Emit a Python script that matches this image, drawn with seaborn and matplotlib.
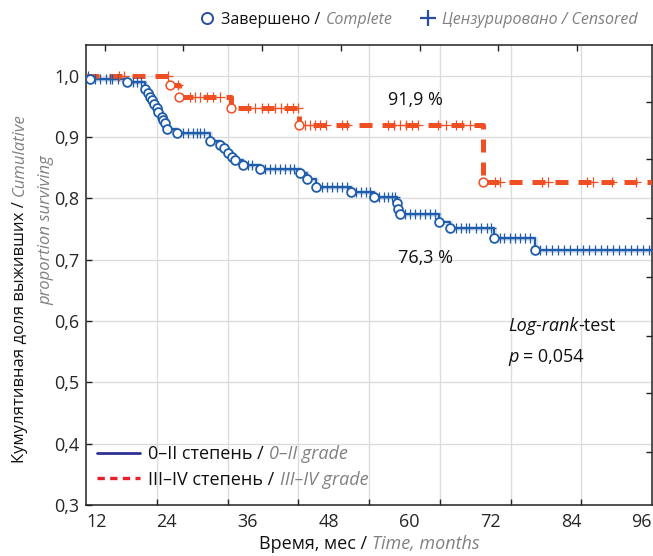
import numpy as np
import pandas as pd
import matplotlib
matplotlib.use('Agg')
import matplotlib.pyplot as plt
import seaborn as sns
from matplotlib.lines import Line2D
from matplotlib.ticker import FuncFormatter

# 0-II grade: event times (months) and survival after each event
low_event_t = [12.6, 18.1, 20.8, 21.2, 21.5, 21.8, 22.1, 22.5, 22.7, 23.3, 23.4, 23.7, 24.0,
               25.5, 30.4, 31.9, 32.5, 33.1, 33.7, 34.1, 35.3, 37.8, 43.8, 44.8, 46.1,
               51.3, 54.7, 58.2, 58.3, 58.6, 64.4, 66.0, 72.6, 78.6]
low_event_s = [0.995, 0.989, 0.979, 0.972, 0.966, 0.961, 0.954, 0.948, 0.941, 0.933, 0.928, 0.923, 0.913,
               0.907, 0.894, 0.887, 0.882, 0.874, 0.867, 0.862, 0.854, 0.848, 0.841, 0.831, 0.818,
               0.810, 0.802, 0.792, 0.782, 0.774, 0.761, 0.751, 0.735, 0.715]
low_cens_t = [12.3, 13.3, 14.1, 15.0, 15.5, 15.9, 16.7, 19.0, 19.6, 20.2, 26.4, 27.1, 27.9, 28.5,
              28.9, 29.5, 36.0, 36.6, 38.6, 39.3, 40.0, 40.8, 41.5, 42.3, 42.9, 47.0, 47.8, 48.5,
              49.2, 50.0, 50.7, 52.1, 52.8, 53.5, 54.1, 55.5, 56.2, 56.8, 57.4, 57.8, 59.3, 60.1,
              60.8, 61.6, 62.3, 63.0, 63.8, 66.9, 67.6, 68.4, 68.9, 69.9, 70.6, 71.5, 72.1, 73.4,
              74.1, 74.9, 75.6, 76.4, 77.1, 77.9, 79.4, 80.3, 81.2, 82.1, 83.0, 83.9, 84.8, 85.7,
              86.6, 87.5, 88.4, 89.3, 90.2, 91.1, 92.0, 92.9, 93.8, 94.7, 95.6]

# III-IV grade
high_event_t = [24.5, 25.8, 33.5, 43.6, 70.9]
high_event_s = [0.984, 0.966, 0.948, 0.919, 0.827]
high_cens_t = [16.9, 17.6, 24.2, 25.6, 27.4, 28.2, 28.9, 30.0, 30.8, 31.9, 36.0, 37.1, 38.1,
               39.0, 40.0, 40.9, 41.8, 42.7, 43.4, 44.5, 45.2, 46.0, 46.7, 47.6, 50.0, 50.7,
               56.8, 57.7, 58.6, 59.5, 60.4, 61.3, 64.2, 65.4, 66.9, 67.8, 69.0, 72.7, 73.4,
               79.7, 80.5, 86.3, 87.2, 90.0, 93.6]

x_ticks = [12, 24, 36, 48, 60, 72, 84, 96]
y_ticks = [0.3, 0.4, 0.5, 0.6, 0.7, 0.8, 0.9, 1.0]
t_start, t_end = 12, 96

BLUE = '#1f5cab'
RED = '#f04f23'
NAVY = '#2e3192'
LRED = '#e8202a'
GREY = '#808080'
GRID = '#dcdcdc'
FS = 13

sns.set_style('white')
plt.rcParams['font.family'] = ['Open Sans', 'DejaVu Sans']
plt.rcParams['font.size'] = FS


def curve(ev_t, ev_s):
    t = [t_start] + list(ev_t) + [t_end]
    s = [1.0] + list(ev_s) + [ev_s[-1]]
    return pd.DataFrame({'t': t, 's': s})


def censored(ev_t, ev_s, c_t):
    idx = np.searchsorted(ev_t, c_t, side='right')
    s = np.concatenate([[1.0], ev_s])[idx]
    return pd.DataFrame({'t': c_t, 's': s})


W, H = 653, 556
fig = plt.figure(figsize=(W / 100, H / 100), dpi=100)
ax = fig.add_axes([86 / W, 1 - 505 / H, 566 / W, 460 / H])


def px(x, y):
    return x / W, 1 - y / H


low_df = curve(low_event_t, low_event_s)
high_df = curve(high_event_t, high_event_s)

sns.lineplot(data=low_df, x='t', y='s', drawstyle='steps-post', color=BLUE, lw=3.5,
             alpha=0.18, estimator=None, ax=ax, legend=False, zorder=2)
sns.lineplot(data=low_df, x='t', y='s', drawstyle='steps-post', color=BLUE, lw=1.5,
             estimator=None, ax=ax, legend=False, zorder=3)
sns.lineplot(data=high_df, x='t', y='s', drawstyle='steps-post', color=RED, lw=3.6,
             linestyle=(0, (2.6, 2.0)), estimator=None, ax=ax, legend=False, zorder=3)

sns.scatterplot(data=censored(low_event_t, low_event_s, low_cens_t), x='t', y='s', marker='+',
                s=55, color=BLUE, linewidth=0.9, ax=ax, zorder=4, legend=False)
sns.scatterplot(data=censored(high_event_t, high_event_s, high_cens_t), x='t', y='s', marker='+',
                s=55, color=RED, linewidth=0.9, ax=ax, zorder=4, legend=False)
sns.scatterplot(data=pd.DataFrame({'t': low_event_t, 's': low_event_s}), x='t', y='s', marker='o',
                s=40, facecolor='white', edgecolor=BLUE, linewidth=1.3, ax=ax, zorder=5, legend=False)
sns.scatterplot(data=pd.DataFrame({'t': high_event_t, 's': high_event_s}), x='t', y='s', marker='o',
                s=40, facecolor='white', edgecolor=RED, linewidth=1.1, ax=ax, zorder=5, legend=False)

ax.set_xlim(t_start, t_end)
ax.set_ylim(0.3, 1.05)
ax.set_xlabel('')
ax.set_ylabel('')

ax.set_xticks(x_ticks)
ax.set_xticklabels([str(v) for v in x_ticks])
ax.set_xticks(np.linspace(t_start, t_end, 9), minor=True)
ax.tick_params(axis='x', which='major', length=0, pad=6, labelsize=FS)
ax.tick_params(axis='x', which='minor', direction='in', length=4, width=1, bottom=True, color='#222222')
ax.set_yticks(y_ticks)
ax.yaxis.set_major_formatter(FuncFormatter(lambda v, p: f'{v:.1f}'.replace('.', ',')))
ax.tick_params(axis='y', direction='in', length=4, width=1, left=True, pad=5, labelsize=FS, color='#222222')
ax.grid(which='minor', axis='x', color=GRID, lw=1)
ax.grid(which='major', axis='y', color=GRID, lw=1)
ax.grid(which='major', axis='x', visible=False)
for sp in ax.spines.values():
    sp.set_color('#222222')
    sp.set_linewidth(1.1)
xt = ax.xaxis.get_major_ticks()
xt[0].label1.set_horizontalalignment('left')
xt[-1].label1.set_horizontalalignment('right')

# secondary tick marks of the original software (top and right)
sec_x = ax.secondary_xaxis('top')
sec_x.set_xticks([14.8, 26.4, 38.1, 49.8, 61.6, 73.1, 84.8])
sec_x.tick_params(direction='in', length=4, width=1, labeltop=False, color='#222222')
sec_x.spines['top'].set_visible(False)
sec_y = ax.secondary_yaxis('right')
sec_y.set_yticks([0.957, 0.864, 0.768, 0.671, 0.576, 0.483, 0.386])
sec_y.tick_params(direction='in', length=4, width=1, labelright=False, color='#222222')
sec_y.spines['right'].set_visible(False)

ital = dict(style='italic', color=GREY)
norm = dict(color='#111111')


def rich(x, y, parts, rotation=0, gap=3.5, size=FS):
    arts = []
    if rotation == 0:
        t = fig.text(x, y, parts[0][0], ha='left', va='center', fontsize=size, **parts[0][1])
    else:
        t = fig.text(x, y, parts[0][0], ha='center', va='bottom', rotation=90, fontsize=size, **parts[0][1])
    arts.append(t)
    for s, kw in parts[1:]:
        if rotation == 0:
            t = ax.annotate(s, xy=(1, 0), xycoords=t, xytext=(gap, 0), textcoords='offset points',
                            ha='left', va='bottom', annotation_clip=False, fontsize=size, **kw)
        else:
            t = ax.annotate(s, xy=(0, 1), xycoords=t, xytext=(0, gap), textcoords='offset points',
                            ha='left', va='bottom', rotation=90, annotation_clip=False, fontsize=size, **kw)
        arts.append(t)
    return arts


def place(arts, target, mode='center', axis=0):
    fig.canvas.draw()
    r = fig.canvas.get_renderer()
    ext = [a.get_window_extent(r) for a in arts]
    if axis == 0:
        lo, hi = min(e.x0 for e in ext), max(e.x1 for e in ext)
    else:
        lo, hi = min(e.y0 for e in ext), max(e.y1 for e in ext)
    cur = (lo + hi) / 2 if mode == 'center' else lo
    d = target - cur
    x, y = arts[0].get_position()
    if axis == 0:
        arts[0].set_position((x + d / W, y))
    else:
        arts[0].set_position((x, y + d / H))


xl = rich(*px(250, 544), [('Время, мес /', norm), ('Time, months', ital)])
yl1 = rich(*px(20, 488), [('Кумулятивная доля выживших /', norm), ('Cumulative', ital)],
           rotation=90, size=12)
yl2 = fig.text(*px(46, 230), 'proportion surviving', rotation=90, ha='center', va='center',
               fontsize=12, **ital)

lr1 = rich(*px(508, 326), [('Log-rank', dict(style='italic', color='#111111')), ('-test', norm)], gap=0)
lr2 = rich(*px(508, 357), [('p', dict(style='italic', color='#111111')), ('= 0,054', norm)], gap=3)
fig.text(*px(415, 100), '91,9 %', ha='center', va='center', color='#111111')
fig.text(*px(425, 258), '76,3 %', ha='center', va='center', color='#111111')

# lower-left legend for the groups
grp_handles = [Line2D([], [], color=NAVY, lw=2), Line2D([], [], color=LRED, lw=2.4, ls=(0, (2.2, 1.6)))]
leg = ax.legend(grp_handles, ['0–II степень /', 'III–IV степень /'], loc='upper left',
                bbox_to_anchor=px(97, 445), bbox_transform=fig.transFigure, frameon=False,
                handlelength=2.4, handletextpad=0.45, labelspacing=0.42, borderpad=0,
                borderaxespad=0, fontsize=FS)
for txt, extra in zip(leg.get_texts(), ['0–II grade', 'III–IV grade']):
    txt.set_color('#111111')
    ax.annotate(extra, xy=(1, 0), xycoords=txt, xytext=(3.5, 0), textcoords='offset points',
                ha='left', va='bottom', annotation_clip=False, fontsize=FS, **ital)

# top legend for marks
TFS = 11.5
mark_handles = [Line2D([], [], marker='o', ls='', mfc='white', mec='#2a4ea0', mew=1.4, ms=8),
                Line2D([], [], marker='+', ls='', color='#2a4ea0', mew=1.6, ms=11)]
top = fig.legend(mark_handles, ['Завершено /', 'Цензурировано / Censored'], ncol=2,
                 loc='center left', bbox_to_anchor=px(199, 20), frameon=False,
                 handlelength=1.0, handletextpad=0.4, columnspacing=6.2, borderpad=0,
                 borderaxespad=0, fontsize=TFS)
ttexts = top.get_texts()
ttexts[0].set_color('#111111')
ttexts[1].set_style('italic')
ttexts[1].set_color(GREY)
ax.annotate('Complete', xy=(1, 0), xycoords=ttexts[0], xytext=(3.5, 0), textcoords='offset points',
            ha='left', va='bottom', annotation_clip=False, fontsize=TFS, **ital)

place(xl, 369, 'center', 0)
place(yl1, H - 288, 'center', 1)
place(lr1, 508, 'left', 0)
place(lr2, 508, 'left', 0)

fig.savefig('out.png', dpi=100)
